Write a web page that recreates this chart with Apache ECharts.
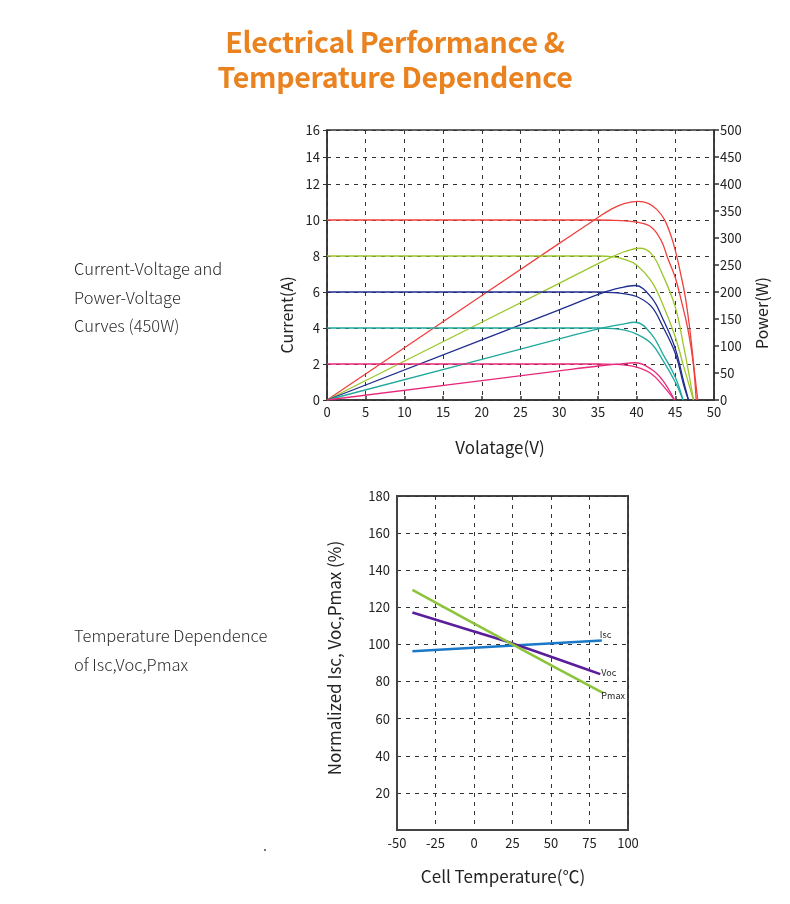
<!DOCTYPE html>
<html>
<head>
<meta charset="utf-8">
<script src="https://cdn.jsdelivr.net/npm/echarts@6/dist/echarts.min.js"></script>
<style>
  html, body { margin: 0; padding: 0; background: #fff; }
  #page { position: relative; width: 790px; height: 904px; overflow: hidden; }
  #chart { position: absolute; left: 0; top: 0; width: 790px; height: 904px; }
  .title {
    position: absolute; left: 0; width: 790px; text-align: center;
    font-family: "Noto Sans CJK SC", "Noto Sans", sans-serif; font-weight: 700;
    font-size: 28.5px; color: #e9821f; letter-spacing: -0.3px; line-height: 35px; top: 23px;
  }
  .side {
    position: absolute; left: 74px;
    font-family: "Noto Sans CJK SC", "Noto Sans", sans-serif; font-weight: 300;
    font-size: 16.5px; color: #2a2a2a; letter-spacing: 0px; line-height: 28.5px;
  }
</style>
</head>
<body>
<div id="page">
  <div id="chart"></div>
  <div class="title">Electrical Performance &amp;<br>Temperature Dependence</div>
  <div class="side" style="top:254px">Current-Voltage and<br>Power-Voltage<br>Curves (450W)</div>
  <div class="side" style="top:621px">Temperature Dependence<br>of Isc,Voc,Pmax</div>
</div>
<script>
// I-V / P-V curves (voltage in V, current in A, power in W)
const redVolts = [0, 30, 35, 37, 38.5, 40, 41.9, 43.2, 44, 45, 45.9, 46.5, 47.0, 47.4, 47.7];
const redCurrent = [10, 10, 10, 9.98, 9.95, 9.88, 9.6, 8.84, 7.9, 6.79, 5.3, 4.2, 3.0, 1.7, 0];
const redPowerVolts = [0, 30, 34.5, 36.8, 38.5, 40.2, 41.5, 42.6, 43.6, 44.4, 45, 45.7, 46.3, 46.9, 47.4, 47.9];
const redPower = [0, 290, 333, 354, 364, 368, 364, 353, 334, 306, 277, 233, 190, 128, 62, 0];

const greenVolts = [0, 35, 37, 38.5, 40, 41.9, 43.4, 45, 46.1, 46.8, 47.35];
const greenCurrent = [8, 8, 7.95, 7.8, 7.5, 6.6, 5.29, 3.5, 1.83, 0.8, 0];
const greenPowerVolts = [0, 30, 36.8, 38.5, 40.4, 41.9, 43.4, 45, 46.1, 46.8, 47.35];
const greenPower = [0, 216, 265, 275, 281, 271, 231, 172, 98, 45, 0];

const blueVolts = [0, 35, 37, 38.5, 40, 41.9, 43.4, 45, 46.1, 46.7];
const blueCurrent = [6, 6, 5.97, 5.9, 5.75, 5.2, 4.07, 2.58, 0.8, 0];
const bluePowerVolts = [0, 30, 35.5, 38, 39.8, 41.9, 43.4, 45, 46.1, 46.7];
const bluePower = [0, 167, 198, 208, 212, 190, 150, 95, 33, 0];

const tealVolts = [0, 35, 37, 38.5, 40, 41.9, 43.4, 45, 46.0];
const tealCurrent = [4, 4, 3.97, 3.88, 3.66, 3.14, 2.2, 0.99, 0];
const tealPowerVolts = [0, 30, 34.8, 38, 39.8, 41.9, 43.4, 45, 46.0];
const tealPower = [0, 113, 131, 140, 144, 122, 85, 42, 0];

const pinkVolts = [0, 35, 37, 38.5, 40, 41.9, 43.4, 44.9];
const pinkCurrent = [2, 2, 1.98, 1.94, 1.83, 1.46, 0.8, 0];
const pinkPowerVolts = [0, 30, 35.1, 38, 39.8, 41.9, 43.4, 44.9];
const pinkPower = [0, 54, 63, 67, 69, 57, 36, 0];

// left axis of the I-V chart is drawn with a squeezed top (12 -> 16)
const currentTickValues = [0, 2, 4, 6, 8, 10, 12, 13.5, 15];
const currentTickLabels = ['0', '2', '4', '6', '8', '10', '12', '14', '16'];

// temperature dependence (cell temperature in °C, normalized %)
const iscTemps = [-40, 83];
const iscValues = [96.3, 102.1];
const vocTemps = [-40, 0, 27, 82];
const vocValues = [117.2, 107, 100, 84];
const pmaxTemps = [-40, 25, 84];
const pmaxValues = [129.4, 100, 73.8];

const FONT = '"Noto Sans CJK SC", "Noto Sans", sans-serif';

function pairs(xs, ys) {
    return xs.map((x, i) => [x, ys[i]]);
}

function curve(name, color, xs, ys, yAxisIndex) {
    return {
        name: name,
        type: 'line',
        xAxisIndex: 0,
        yAxisIndex: yAxisIndex,
        data: pairs(xs, ys),
        smooth: 0.4,
        symbol: 'none',
        lineStyle: { color: color, width: 1.3 },
        z: 3
    };
}

function tempLine(name, color, xs, ys, offset) {
    return {
        name: name,
        type: 'line',
        xAxisIndex: 1,
        yAxisIndex: 2,
        data: pairs(xs, ys),
        smooth: 0.3,
        symbol: 'none',
        lineStyle: { color: color, width: 2.6 },
        endLabel: {
            show: true,
            formatter: name,
            fontSize: 9,
            fontFamily: FONT,
            color: '#222',
            distance: 1,
            offset: offset
        },
        z: 3
    };
}

const dash = { type: [4, 5], color: '#333', width: 1 };
const tickLabel = { color: '#222', fontSize: 13, fontFamily: FONT };

const chart = echarts.init(document.getElementById('chart'));

chart.setOption({
    animation: false,
    grid: [
        { left: 327, top: 130, width: 387, height: 270, show: true, borderColor: '#333', borderWidth: 1.5 },
        { left: 397, top: 496, width: 231, height: 334, show: true, borderColor: '#444', borderWidth: 2 }
    ],
    xAxis: [
        {
            gridIndex: 0, type: 'value', min: 0, max: 50, interval: 5,
            axisLine: { onZero: false, lineStyle: { color: '#333', width: 1.5 } },
            axisTick: { inside: true, length: 4, lineStyle: { color: '#333', width: 1.5 } },
            axisLabel: Object.assign({ margin: 6 }, tickLabel),
            splitLine: { show: true, lineStyle: dash }
        },
        {
            gridIndex: 1, type: 'value', min: -50, max: 100, interval: 25,
            axisLine: { onZero: false, lineStyle: { color: '#444', width: 2 } },
            axisTick: { show: false },
            axisLabel: Object.assign({ margin: 7 }, tickLabel),
            splitLine: { show: true, lineStyle: dash }
        }
    ],
    yAxis: [
        {
            gridIndex: 0, type: 'value', min: 0, max: 15,
            axisLine: { show: true, onZero: false, lineStyle: { color: '#333', width: 1.5 } },
            axisTick: { show: true, length: 4, customValues: currentTickValues, lineStyle: { color: '#333' } },
            axisLabel: Object.assign({
                margin: 7,
                customValues: currentTickValues,
                formatter: v => currentTickLabels[currentTickValues.indexOf(v)]
            }, tickLabel),
            splitLine: { show: true, lineStyle: dash }
        },
        {
            gridIndex: 0, type: 'value', position: 'right', min: 0, max: 500, interval: 50,
            axisLine: { show: true, onZero: false, lineStyle: { color: '#333', width: 1.5 } },
            axisTick: { show: true, length: 5, lineStyle: { color: '#333', width: 1.5 } },
            axisLabel: Object.assign({ margin: 6 }, tickLabel),
            splitLine: { show: false }
        },
        {
            gridIndex: 1, type: 'value', min: 0, max: 180, interval: 20,
            axisLine: { show: true, onZero: false, lineStyle: { color: '#444', width: 2 } },
            axisTick: { show: false },
            axisLabel: Object.assign({
                margin: 7,
                formatter: v => (v === 0 ? '' : String(v))
            }, tickLabel),
            splitLine: { show: true, lineStyle: dash }
        }
    ],
    series: [
        curve('I red', '#f0403c', redVolts, redCurrent, 0),
        curve('P red', '#f0403c', redPowerVolts, redPower, 1),
        curve('I green', '#9cc62c', greenVolts, greenCurrent, 0),
        curve('P green', '#9cc62c', greenPowerVolts, greenPower, 1),
        curve('I blue', '#1f2e8e', blueVolts, blueCurrent, 0),
        curve('P blue', '#1f2e8e', bluePowerVolts, bluePower, 1),
        curve('I teal', '#1fa89c', tealVolts, tealCurrent, 0),
        curve('P teal', '#1fa89c', tealPowerVolts, tealPower, 1),
        curve('I pink', '#e8287a', pinkVolts, pinkCurrent, 0),
        curve('P pink', '#e8287a', pinkPowerVolts, pinkPower, 1),
        tempLine('Isc', '#1a78c8', iscTemps, iscValues, [-3, -6]),
        tempLine('Voc', '#5a1e9a', vocTemps, vocValues, [0, -2]),
        tempLine('Pmax', '#8cc43c', pmaxTemps, pmaxValues, [-3, 3])
    ],
    graphic: [
        { type: 'text', x: 287, y: 315, rotation: Math.PI / 2,
          style: { text: 'Current(A)', font: '16px ' + FONT, fill: '#222', align: 'center', verticalAlign: 'middle' } },
        { type: 'text', x: 762, y: 313, rotation: Math.PI / 2,
          style: { text: 'Power(W)', font: '16px ' + FONT, fill: '#222', align: 'center', verticalAlign: 'middle' } },
        { type: 'text', x: 500, y: 448,
          style: { text: 'Volatage(V)', font: '17px ' + FONT, fill: '#222', align: 'center', verticalAlign: 'middle' } },
        { type: 'text', x: 335, y: 658, rotation: Math.PI / 2,
          style: { text: 'Normalized Isc, Voc,Pmax (%)', font: '17px ' + FONT, fill: '#222', align: 'center', verticalAlign: 'middle' } },
        { type: 'text', x: 503, y: 877,
          style: { text: 'Cell Temperature(℃)', font: '17px ' + FONT, fill: '#222', align: 'center', verticalAlign: 'middle' } },
        { type: 'text', x: 265, y: 846,
          style: { text: '.', font: '14px ' + FONT, fill: '#444', align: 'center', verticalAlign: 'middle' } }
    ]
});
</script>
</body>
</html>
